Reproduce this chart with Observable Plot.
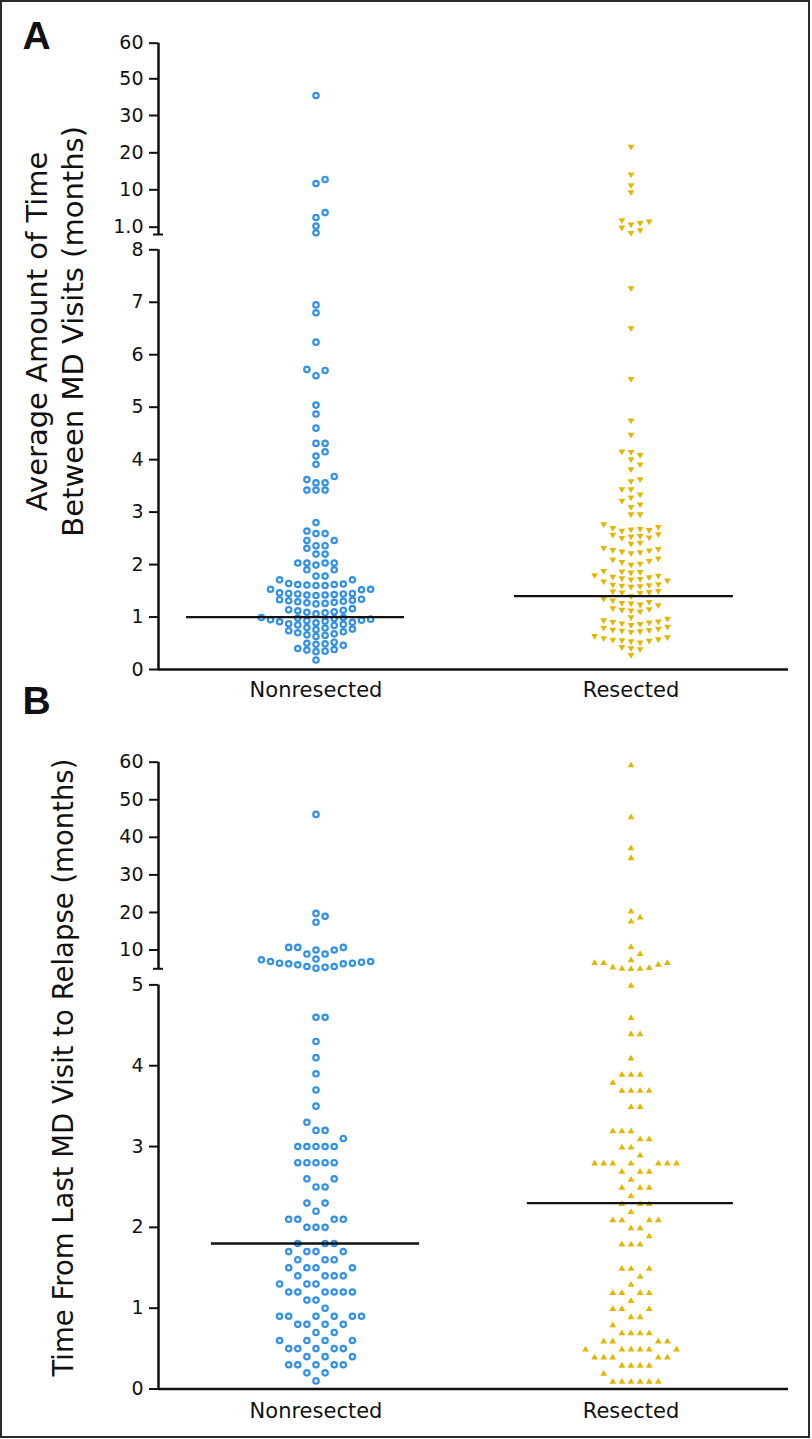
<!DOCTYPE html>
<html><head><meta charset="utf-8">
<script src="https://cdn.jsdelivr.net/npm/d3@7"></script>
<script src="https://cdn.jsdelivr.net/npm/@observablehq/plot@0.6"></script>
<style>
html,body{margin:0;padding:0;background:#fff;overflow:hidden;width:812px;height:1439px}
#frame{position:absolute;left:0;top:0;width:810px;height:1438px;border:2px solid #2b2b2b;box-sizing:border-box}
#panelA,#panelB{position:absolute;left:0}
#panelA{top:0}
#panelB{top:676px}
svg{overflow:visible}
</style></head><body>
<div id="frame"></div>
<div id="panelA"></div><div id="panelB"></div>
<script>
// ---------------- data ----------------
const groups = ["Nonresected", "Resected"];
const panelLabels = ["A", "B"];
const titleA = ["Average Amount of Time", "Between MD Visits (months)"];
const titleB = ["Time From Last MD Visit to Relapse (months)"];
const medianA = [1.0, 1.4];
const medianB = [1.8, 2.3];

const ticksA = [0, 1, 2, 3, 4, 5, 6, 7, 8, 9, 10, 20, 30, 50, 60];
const tickLabelsA = ["0", "1", "2", "3", "4", "5", "6", "7", "8", "1.0", "10", "20", "30", "50", "60"];
const ticksB = [0, 1, 2, 3, 4, 5, 10, 20, 30, 40, 50, 60];
const tickLabelsB = ["0", "1", "2", "3", "4", "5", "10", "20", "30", "40", "50", "60"];

const nonresectedA = [
  40.9, 12.8, 11.7, 9.39, 9.26, 9.03, 8.23,
  6.95, 6.80, 6.24, 5.72, 5.70, 5.60, 5.04, 4.87, 4.60, 4.31, 4.31, 4.15, 4.07, 3.91, 3.68, 3.62, 3.56, 3.56, 3.42, 3.42, 3.42,
  2.80, 2.64, 2.59, 2.59, 2.46, 2.46, 2.36, 2.36, 2.31, 2.20, 2.20, 2.03, 2.03, 2.03, 2.03, 1.99, 1.90, 1.90, 1.78, 1.78, 1.71, 1.71,
  1.64, 1.63, 1.62, 1.62, 1.61, 1.60, 1.60, 1.53, 1.53, 1.52,
  1.46, 1.45, 1.45, 1.44, 1.44, 1.43, 1.42, 1.42, 1.41,
  1.34, 1.33, 1.32, 1.31, 1.30, 1.29, 1.28, 1.27, 1.26, 1.25,
  1.16, 1.14, 1.13, 1.12, 1.10, 1.09, 1.08, 1.06,
  0.99, 0.99, 0.98, 0.97, 0.96, 0.95, 0.94, 0.93, 0.92, 0.91, 0.90, 0.89, 0.87, 0.86, 0.85, 0.84,
  0.80, 0.79, 0.77, 0.76, 0.74, 0.72, 0.70, 0.68, 0.66, 0.65, 0.63,
  0.52, 0.50, 0.49, 0.48, 0.46, 0.40, 0.38, 0.37, 0.35, 0.34, 0.18
];
const resectedA = [
  21.4, 13.9, 11.0, 9.91, 9.16, 9.13, 9.09, 9.05, 8.82, 8.45, 8.10,
  7.25, 6.49, 5.52, 4.73, 4.46, 4.14, 4.13, 4.07, 3.99, 3.89, 3.80, 3.61, 3.57, 3.42, 3.42, 3.32, 3.26, 3.20, 3.13, 3.08, 2.94, 2.94, 2.75,
  2.70, 2.68, 2.66, 2.65, 2.64, 2.63,
  2.56, 2.55, 2.53, 2.52, 2.50, 2.49,
  2.40, 2.38,
  2.30, 2.28, 2.26, 2.25, 2.23, 2.22, 2.20,
  2.10, 2.08, 2.05, 2.03, 2.00, 1.98,
  1.86, 1.85, 1.84, 1.83,
  1.78, 1.77, 1.75, 1.74, 1.72, 1.71, 1.70, 1.68, 1.66,
  1.61, 1.60, 1.59, 1.58, 1.57, 1.56,
  1.48, 1.47, 1.46, 1.45, 1.44,
  1.38, 1.33, 1.30, 1.27, 1.25, 1.24, 1.22, 1.21,
  1.15, 1.13, 1.12, 1.11, 1.09,
  0.98, 0.95, 0.92, 0.90, 0.89, 0.88, 0.86, 0.85, 0.83,
  0.80, 0.78, 0.76, 0.74, 0.73, 0.72, 0.71, 0.70,
  0.62, 0.60, 0.58, 0.56, 0.55, 0.54, 0.53, 0.52, 0.50,
  0.41, 0.39, 0.37, 0.26
];
const nonresectedB = [
  46.1, 19.75, 18.96, 17.4, 10.7, 10.7, 10.7, 10.0, 10.0, 8.93, 8.93, 7.6,
  7.40, 6.94, 6.94, 6.76, 6.49, 6.49, 6.33, 6.33, 6.07, 5.61, 5.61, 5.43, 5.16,
  4.6, 4.6, 4.3, 4.1, 3.9, 3.7, 3.5, 3.3, 3.2, 3.2, 3.1, 3.0, 3.0, 3.0, 3.0, 3.0,
  2.8, 2.8, 2.8, 2.8, 2.8, 2.6, 2.6, 2.5, 2.5, 2.3, 2.3, 2.2, 2.1, 2.1, 2.1, 2.1, 2.0, 2.0, 2.0,
  1.8, 1.8, 1.8, 1.7, 1.7, 1.7, 1.7, 1.6, 1.6, 1.6, 1.5, 1.5, 1.5, 1.5, 1.4, 1.4, 1.4, 1.4, 1.3, 1.3, 1.3,
  1.2, 1.2, 1.2, 1.2, 1.2, 1.2, 1.1, 1.1, 1.0, 0.9, 0.9, 0.9, 0.9, 0.9, 0.9, 0.8, 0.8, 0.8, 0.8, 0.7, 0.7,
  0.6, 0.6, 0.6, 0.6, 0.5, 0.5, 0.5, 0.5, 0.5, 0.4, 0.4, 0.4, 0.3, 0.3, 0.3, 0.3, 0.3, 0.2, 0.2, 0.1
];
const resectedB = [
  59.4, 45.6, 37.3, 34.7, 20.5, 18.9, 17.8, 11.0, 9.2,
  7.48, 6.76, 6.76, 6.76, 6.33, 5.61, 5.43, 5.27, 5.27, 5.16,
  5.0, 4.6, 4.4, 4.4, 4.1, 3.9, 3.9, 3.9, 3.8, 3.7, 3.7, 3.7, 3.7, 3.5, 3.5,
  3.2, 3.2, 3.2, 3.1, 3.1, 3.0, 3.0, 2.9, 2.8, 2.8, 2.8, 2.8, 2.8, 2.8, 2.8, 2.7, 2.7, 2.7, 2.6,
  2.5, 2.5, 2.5, 2.4, 2.3, 2.3, 2.3, 2.2, 2.1, 2.1, 2.1, 2.1, 2.0, 2.0, 1.9, 1.8, 1.8, 1.8,
  1.5, 1.5, 1.5, 1.4, 1.3, 1.2, 1.2, 1.2, 1.2, 1.1, 1.0, 1.0, 1.0, 0.9, 0.9, 0.8,
  0.7, 0.7, 0.7, 0.7, 0.6, 0.6, 0.6, 0.6, 0.5, 0.5, 0.5, 0.5, 0.5, 0.5, 0.4, 0.4, 0.4, 0.4, 0.4,
  0.3, 0.3, 0.3, 0.3, 0.2, 0.1, 0.1, 0.1, 0.1, 0.1, 0.1
];

// ---------------- layout / style ----------------
const BRK = 1e-4;
const INK = "#111";
const BLUE = "#3090ea";
const GOLD = "#e4b602";
const FONT = "DejaVu Sans";
const X_RANGE = [158, 788];
const WIDTH = 812;

const cfgA = {
  height: 700,
  yDomain: [0, 8, 8 + BRK, 9, 10, 20, 30, 50, 60],
  yRange: [669, 249.3, 234, 226.7, 189.3, 152.3, 115, 78.3, 42.7],
  lowerTop: 8, upperBottom: 8 + BRK, top: 60,
  medSpan: [[-0.411, 0.281], [-0.370, 0.325]],
  collide: 6.6,
  tri: "down",
  titleDx: [-120.5, -84.5], titleDy: -25, titleSize: 29,
  labelDy: -6.7, groupDy: 21
};
const cfgB = {
  height: 763,
  yDomain: [0, 5, 5 + BRK, 60],
  yRange: [712.5, 308.4, 292.3, 85.7],
  lowerTop: 5, upperBottom: 5 + BRK, top: 60,
  medSpan: [[-0.332, 0.329], [-0.329, 0.325]],
  collide: 8.5,
  tri: "up",
  titleDx: [-94], titleDy: -8, titleSize: 27.5,
  labelDy: -60.2, groupDy: 22
};

const triDown = {draw(ctx, size) {
  const r = Math.sqrt(size / Math.PI), h = r * 0.85;
  ctx.moveTo(-r, -h); ctx.lineTo(r, -h); ctx.lineTo(0, h); ctx.closePath();
}};
const triUp = {draw(ctx, size) {
  const r = Math.sqrt(size / Math.PI), h = r * 0.85;
  ctx.moveTo(-r, h); ctx.lineTo(r, h); ctx.lineTo(0, -h); ctx.closePath();
}};

// Prism-like column dot layout: each point goes into the column nearest the centre
// where it does not collide vertically with a point already placed there.
function columnSwarm(values, center, yScale, colPx, pxPerX, D) {
  const pts = values.map(v => ({v, py: yScale(v)})).sort((a, b) => a.v - b.v);
  const order = [0];
  for (let k = 1; k < 60; k++) order.push(k, -k);
  const cols = new Map();
  for (const p of pts) {
    for (const c of order) {
      const list = cols.get(c) || [];
      if (list.every(q => Math.abs(q - p.py) >= D)) {
        list.push(p.py); cols.set(c, list); p.col = c; break;
      }
    }
    p.x = center + p.col * colPx / pxPerX;
  }
  return pts;
}

function panel(cfg, label, seriesN, seriesR, medians, ticks, tickLabels, titles) {
  const yScale = d3.scaleLinear().domain(cfg.yDomain).range(cfg.yRange);
  const pxPerX = (X_RANGE[1] - X_RANGE[0]) / 2;
  const ptsN = columnSwarm(seriesN, 0.5, yScale, 9.1, pxPerX, cfg.collide);
  const ptsR = columnSwarm(seriesR, 1.5, yScale, 9.1, pxPerX, cfg.collide);
  const med = medians.map((m, i) => ({m, x1: i + 0.5 + cfg.medSpan[i][0], x2: i + 0.5 + cfg.medSpan[i][1]}));
  const tickRows = ticks.map((t, i) => ({t, label: tickLabels[i]}));
  const marginTop = cfg.yRange[cfg.yRange.length - 1];
  const marginBottom = cfg.height - cfg.yRange[0];
  return Plot.plot({
    width: WIDTH, height: cfg.height,
    marginLeft: X_RANGE[0], marginRight: WIDTH - X_RANGE[1],
    marginTop, marginBottom,
    x: {type: "linear", domain: [0, 2], range: X_RANGE, axis: null},
    y: {type: "linear", domain: cfg.yDomain, range: cfg.yRange, axis: null},
    style: {fontFamily: FONT, background: "transparent", overflow: "visible", color: INK},
    marks: [
      // axis lines (broken y axis)
      Plot.ruleX([0], {y1: 0, y2: cfg.lowerTop, stroke: INK, strokeWidth: 2.5}),
      Plot.ruleX([0], {y1: cfg.upperBottom, y2: cfg.top, stroke: INK, strokeWidth: 2.5}),
      Plot.ruleY([cfg.upperBottom], {x1: -5 / pxPerX, x2: 5 / pxPerX, stroke: INK, strokeWidth: 2}),
      Plot.ruleY([0], {x1: 0, x2: 2, stroke: INK, strokeWidth: 2.5}),
      // ticks and tick labels
      Plot.ruleY(tickRows, {y: "t", x1: -9 / pxPerX, x2: 0, stroke: INK, strokeWidth: 2}),
      Plot.text(tickRows, {y: "t", text: "label", frameAnchor: "left", dx: -15, textAnchor: "end", lineAnchor: "middle", fontSize: 19, fill: INK}),
      // group labels
      Plot.text(groups, {x: (d, i) => i + 0.5, text: d => d, frameAnchor: "bottom", dy: cfg.groupDy, textAnchor: "middle", lineAnchor: "middle", fontSize: 21, fill: INK}),
      // points
      Plot.dot(ptsN, {x: "x", y: "v", r: 2.7, stroke: BLUE, strokeWidth: 2.2, fill: "white"}),
      Plot.dot(ptsR, {x: "x", y: "v", r: 3.4, symbol: cfg.tri === "down" ? triDown : triUp, fill: GOLD, stroke: "none"}),
      // medians
      Plot.ruleY(med, {y: "m", x1: "x1", x2: "x2", stroke: INK, strokeWidth: 2.3}),
      // y-axis titles
      ...titles.map((t, i) => Plot.text([t], {text: d => d, frameAnchor: "left", rotate: -90, textAnchor: "middle", lineAnchor: "middle", dx: cfg.titleDx[i], dy: cfg.titleDy, fontSize: cfg.titleSize, fill: INK})),
      // panel label
      Plot.text([label], {text: d => d, frameAnchor: "top-left", textAnchor: "start", lineAnchor: "middle", dx: 22 - X_RANGE[0], dy: cfg.labelDy, fontSize: 39, fontWeight: "bold", fontFamily: "Liberation Sans", fill: INK})
    ]
  });
}

document.getElementById("panelA").append(panel(cfgA, panelLabels[0], nonresectedA, resectedA, medianA, ticksA, tickLabelsA, titleA));
document.getElementById("panelB").append(panel(cfgB, panelLabels[1], nonresectedB, resectedB, medianB, ticksB, tickLabelsB, titleB));
</script>
</body></html>
